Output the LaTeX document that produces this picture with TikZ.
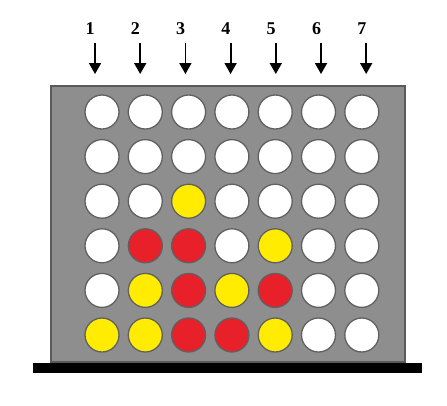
\documentclass[tikz,border=0pt]{standalone}
\usepackage{fontspec}
\setmainfont{Liberation Serif}
\usetikzlibrary{arrows.meta,positioning}
\definecolor{boardgray}{HTML}{8E8E8E}
\definecolor{boardedge}{HTML}{5A5A5A}
\definecolor{holeedge}{HTML}{606060}
\colorlet{W}{white}
\definecolor{Y}{HTML}{FFEC00}
\definecolor{R}{HTML}{E8202A}

\begin{document}
\begin{tikzpicture}[
    x=1pt, y=-1pt,
    board/.style={rectangle, draw=boardedge, line width=1.2pt, fill=boardgray, minimum width=354pt, minimum height=276pt, inner sep=0pt},
    base/.style={rectangle, fill=black, minimum width=389pt, minimum height=10pt, inner sep=0pt},
    hole/.style={circle, draw=holeedge, line width=1.3pt, minimum size=34pt, inner sep=0pt},
    colnum/.style={font=\fontsize{18}{20}\selectfont\bfseries, inner sep=0pt},
    drop/.style={-{Triangle[width=12pt,length=11pt]}, line width=1.8pt}
]
    \useasboundingbox (0,0) rectangle (447,405);

    % board and stand
    \node[board] (board) at (228,224) {};
    \node[base] (base) at (227.5,368) {};

    % column numbers and arrows
    \foreach \i in {1,...,7} {
        \node[colnum] (num\i) at ({90+45.3*(\i-1)},29) {\i};
        \coordinate (top\i) at ({95+45.2*(\i-1)},43);
        \coordinate (tip\i) at ({95+45.2*(\i-1)},74);
        \draw[drop] (top\i) -- (tip\i);
    }

    % holes, row by row from the top
    \foreach \row/\discs in {
        1/{W,W,W,W,W,W,W},
        2/{W,W,W,W,W,W,W},
        3/{W,W,Y,W,W,W,W},
        4/{W,R,R,W,Y,W,W},
        5/{W,Y,R,Y,R,W,W},
        6/{Y,Y,R,R,Y,W,W}} {
        \foreach \disc [count=\col] in \discs {
            \node[hole, fill=\disc] (h\row\col) at ({102+43.3*(\col-1)},{112+44.6*(\row-1)}) {};
        }
    }
\end{tikzpicture}
\end{document}
